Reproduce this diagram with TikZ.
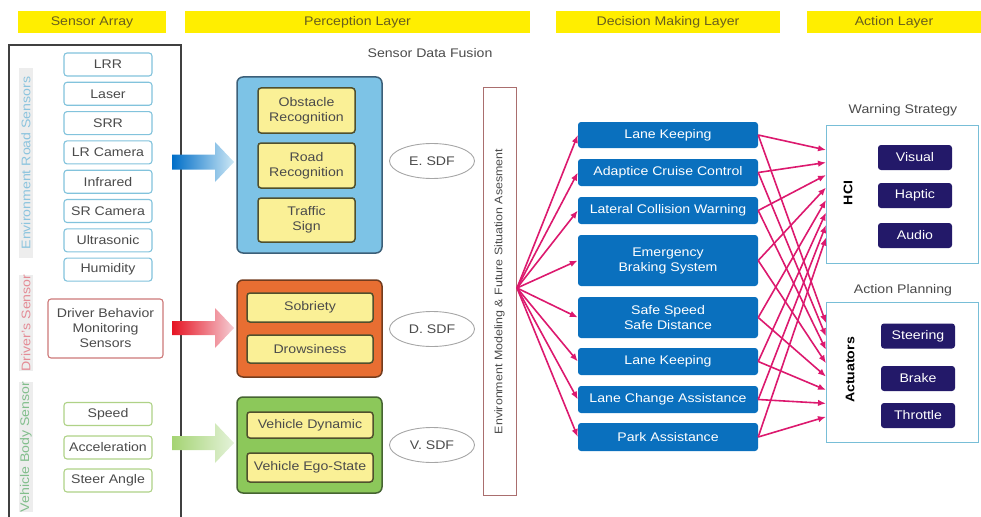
\documentclass[tikz,border=0pt]{standalone}
\usepackage{fontspec}
\setmainfont[FakeStretch=1.13]{Liberation Sans}
\usetikzlibrary{arrows.meta,shapes.geometric}
\definecolor{hdryel}{RGB}{255,238,0}
\definecolor{hdrtxt}{RGB}{105,95,30}
\definecolor{sensblue}{RGB}{130,195,220}
\definecolor{sensred}{RGB}{205,120,120}
\definecolor{sensgreen}{RGB}{175,210,135}
\definecolor{perblue}{RGB}{125,195,230}
\definecolor{perblueb}{RGB}{60,95,120}
\definecolor{perorange}{RGB}{232,110,50}
\definecolor{perorangeb}{RGB}{115,60,30}
\definecolor{pergreen}{RGB}{140,200,90}
\definecolor{pergreenb}{RGB}{70,100,50}
\definecolor{inyel}{RGB}{250,240,150}
\definecolor{inyelb}{RGB}{80,80,45}
\definecolor{decblue}{RGB}{10,112,190}
\definecolor{mag}{RGB}{220,25,110}
\definecolor{navy}{RGB}{35,25,105}
\definecolor{actb}{RGB}{120,190,215}
\definecolor{envb}{RGB}{170,110,110}
\definecolor{txtgray}{RGB}{75,75,75}
\tikzset{
  hdr/.style={fill=hdryel, text=hdrtxt, minimum height=22, inner sep=0},
  sensbox/.style={draw=sensblue, line width=1.1pt, fill=white, rounded corners=3, minimum width=88, minimum height=23, inner sep=0, text=txtgray},
  sidelbl/.style={rotate=90, fill=black!7, inner sep=0, minimum height=14, font=\fontsize{12.5}{15}\selectfont},
  bigbox/.style={line width=1.5pt, rounded corners=6, inner sep=0},
  inbox/.style={draw=inyelb, fill=inyel, line width=1.5pt, rounded corners=3, inner sep=0, align=center, text=txtgray},
  sdf/.style={ellipse, draw=black!35, line width=0.9pt, minimum width=85, minimum height=35, inner sep=0, text=txtgray},
  decbox/.style={fill=decblue, rounded corners=3, minimum width=180, inner sep=0, text=white, align=center},
  actbox/.style={draw=actb, line width=1pt, fill=white, inner sep=0},
  navybox/.style={fill=navy, rounded corners=3, minimum width=74, minimum height=25, inner sep=0, text=white},
  fan/.style={draw=mag, line width=1.6pt, -{Latex[length=8pt,width=6.5pt]}},
  lbl/.style={text=txtgray, inner sep=0}
}
\begin{document}
\begin{tikzpicture}[x=1pt,y=-1pt, font=\fontsize{12.5}{15}\selectfont]
\useasboundingbox (0,0) rectangle (981,516);
% headers
\node[hdr, minimum width=148] (h1) at (92,22) {Sensor Array};
\node[hdr, minimum width=345] (h2) at (357.5,22) {Perception Layer};
\node[hdr, minimum width=224] (h3) at (668,22) {Decision Making Layer};
\node[hdr, minimum width=174] (h4) at (894,22) {Action Layer};
% sensor array frame
\draw[black!75, line width=1.3pt] (9,520) -- (9,45) -- (181,45) -- (181,520);
\node[sidelbl, minimum width=190, text={rgb,255:red,140;green,196;blue,222}] (l1) at (26,163) {Environment Road Sensors};
\node[sidelbl, minimum width=92, text={rgb,255:red,228;green,140;blue,150}] (l2) at (26,323) {Driver's Sensor};
\node[sidelbl, minimum width=125, text={rgb,255:red,130;green,190;blue,140}] (l3) at (26,447) {Vehicle Body Sensor};
\foreach \t [count=\i] in {LRR,Laser,SRR,LR Camera,Infrared,SR Camera,Ultrasonic,Humidity}
  \node[sensbox] (s\i) at (108,{64.5+29.3*(\i-1)}) {\t};
\node[sensbox, draw=sensred, minimum width=115, minimum height=59, align=center] (drv) at (105.5,328.5) {Driver Behavior\\Monitoring\\Sensors};
\node[sensbox, draw=sensgreen] (v1) at (108,414) {Speed};
\node[sensbox, draw=sensgreen] (v2) at (108,447.5) {Acceleration};
\node[sensbox, draw=sensgreen] (v3) at (108,480.5) {Steer Angle};
% gradient arrows
\shade[left color={rgb,255:red,0;green,110;blue,200}, right color={rgb,255:red,205;green,232;blue,245}]
  (172,154.5) -- (215,154.5) -- (215,142) -- (234,162) -- (215,182) -- (215,169.5) -- (172,169.5) -- cycle;
\shade[left color={rgb,255:red,230;green,20;blue,35}, right color={rgb,255:red,245;green,205;blue,212}]
  (172,321) -- (215,321) -- (215,308) -- (234,328) -- (215,348) -- (215,335) -- (172,335) -- cycle;
\shade[left color={rgb,255:red,165;green,212;blue,115}, right color={rgb,255:red,228;green,242;blue,218}]
  (172,436) -- (215,436) -- (215,423) -- (234,443) -- (215,463) -- (215,450) -- (172,450) -- cycle;
% perception
\node[lbl] (sdft) at (430,53) {Sensor Data Fusion};
\node[bigbox, draw=perblueb, fill=perblue, minimum width=145, minimum height=176] (pe) at (309.5,165) {};
\node[inbox, minimum width=97, minimum height=45] (p1) at (306.5,110.5) {Obstacle\\Recognition};
\node[inbox, minimum width=97, minimum height=45] (p2) at (306.5,165.5) {Road\\Recognition};
\node[inbox, minimum width=97, minimum height=44] (p3) at (306.5,220) {Traffic\\Sign};
\node[bigbox, draw=perorangeb, fill=perorange, minimum width=145, minimum height=97] (pd) at (309.5,328.5) {};
\node[inbox, minimum width=126, minimum height=29] (p4) at (310,307.5) {Sobriety};
\node[inbox, minimum width=126, minimum height=28] (p5) at (310,349) {Drowsiness};
\node[bigbox, draw=pergreenb, fill=pergreen, minimum width=145, minimum height=96] (pv) at (309.5,445) {};
\node[inbox, minimum width=126, minimum height=26] (p6) at (310,425) {Vehicle Dynamic};
\node[inbox, minimum width=126, minimum height=29] (p7) at (310,467.5) {Vehicle Ego-State};
\node[sdf] (e1) at (432,161) {E. SDF};
\node[sdf] (e2) at (432,329) {D. SDF};
\node[sdf] (e3) at (432,445) {V. SDF};
% environment modeling
\node[draw=envb, line width=1pt, fill=white, minimum width=407, minimum height=33, inner sep=0, rotate=90, text=txtgray, font=\fontsize{11}{13}\selectfont] (env) at (499.5,291.5) {Environment Modeling \& Future Situation Asesment};
\coordinate (fan) at (517,288);
% decision
\node[decbox, minimum height=26] (d1) at (668,135) {Lane Keeping};
\node[decbox, minimum height=27] (d2) at (668,172.5) {Adaptice Cruise Control};
\node[decbox, minimum height=27] (d3) at (668,210.5) {Lateral Collision Warning};
\node[decbox, minimum height=51] (d4) at (668,260.5) {Emergency\\Braking System};
\node[decbox, minimum height=41] (d5) at (668,317.5) {Safe Speed\\Safe Distance};
\node[decbox, minimum height=27] (d6) at (668,361.5) {Lane Keeping};
\node[decbox, minimum height=27] (d7) at (668,399.5) {Lane Change Assistance};
\node[decbox, minimum height=28] (d8) at (668,437) {Park Assistance};
\foreach \i in {1,...,8} \draw[fan] (fan) -- (d\i.west);
% action
\node[lbl] (ws) at (903,110) {Warning Strategy};
\node[actbox, minimum width=152, minimum height=138] (hci) at (902,194) {};
\node[font=\fontsize{12.5}{15}\selectfont\bfseries, rotate=90, inner sep=0] (hcit) at (848,193) {HCI};
\node[navybox] (a1) at (915,157.5) {Visual};
\node[navybox] (a2) at (915,195.5) {Haptic};
\node[navybox] (a3) at (915,235.5) {Audio};
\node[lbl] (ap) at (903,290) {Action Planning};
\node[actbox, minimum width=152, minimum height=140] (act) at (902,372) {};
\node[font=\fontsize{12.5}{15}\selectfont\bfseries, rotate=90, inner sep=0] (actt) at (850,370) {Actuators};
\node[navybox] (b1) at (918,336) {Steering};
\node[navybox] (b2) at (918,378.5) {Brake};
\node[navybox] (b3) at (918,415.5) {Throttle};
\foreach \i in {1,...,8} {
  \coordinate (hc\i) at (826,{137.5+12.5*\i});
  \coordinate (ac\i) at (826,{309.6+13.4*\i});
}
\foreach \i in {1,...,8} {
  \draw[fan] (d\i.east) -- (hc\i);
  \draw[fan] (d\i.east) -- (ac\i);
}
\end{tikzpicture}
\end{document}
